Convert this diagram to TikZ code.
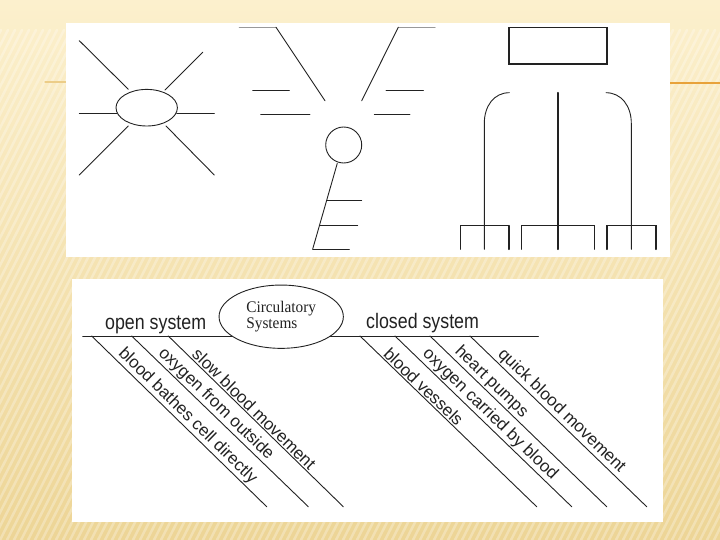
\documentclass[tikz,border=0pt]{standalone}
\usepackage{graphicx}
\usepackage{fontspec}
\setmainfont{Liberation Sans}
\newfontfamily\csserif{Liberation Serif}
\usetikzlibrary{shapes.geometric}
\definecolor{bgtop}{HTML}{FCF0CD}
\definecolor{bgbot}{HTML}{EDD596}
\definecolor{orangeline}{HTML}{E8A23A}
\definecolor{ink}{HTML}{222222}
\begin{document}
\begin{tikzpicture}[x=1pt,y=-1pt,line cap=round,
  ln/.style={line width=0.9pt,draw=ink},
  thk/.style={line width=1.6pt,draw=ink},
  gr/.style={line width=1.2pt,draw=black!40},
  dlab/.style={sloped,above,inner sep=1.2pt,font=\fontsize{17}{19}\selectfont,text=ink},
  hlab/.style={anchor=base west,inner sep=0pt,font=\fontsize{17.8}{20}\selectfont,text=ink}]
\useasboundingbox (0,0) rectangle (720,540);
% background
\shade[top color=bgtop,bottom color=bgbot] (0,0) rectangle (720,540);
\begin{scope}
\clip (0,30) rectangle (720,540);
\foreach \x in {-280,-273,...,720}
  \draw[white,opacity=0.28,line width=2.5pt] (\x,540) -- (\x+260,30);
\end{scope}
\draw[orangeline,line width=2pt] (670,83) -- (720,83);
\draw[bgbot!85!orangeline,line width=1.2pt] (45,82) -- (66,82);
% panels
\fill[white] (66,23) rectangle (670,257);
\fill[white] (72,279) rectangle (663,522);
% ---------- sun diagram
\node[ln,draw,ellipse,minimum width=61.4pt,minimum height=36.6pt,inner sep=0pt] (sun) at (146.7,107.7) {};
\draw[ln] (79.3,113.3) -- (116.7,113.3);
\draw[ln] (176.7,113.3) -- (214.3,113.3);
\draw[ln] (79.3,40.7) -- (128.3,89.3);
\draw[ln] (202.7,52.3) -- (165,90);
\draw[ln] (128.3,126) -- (79.3,175);
\draw[ln] (166,126) -- (214.3,175);
% ---------- fishbone-like diagram
\draw[gr] (239.3,27.3) -- (276,27.3);
\draw[ln] (276,27.3) -- (325,100.7);
\draw[gr] (398.3,27.3) -- (435,27.3);
\draw[ln] (398.3,27.3) -- (361.7,100.7);
\draw[ln] (252.7,90) -- (289.3,90);
\draw[ln] (260.7,114.3) -- (310,114.3);
\draw[ln] (386,90) -- (423.3,90);
\draw[ln] (374.3,114.3) -- (410,114.3);
\node[ln,draw,circle,minimum size=36pt,inner sep=0pt] (head) at (343.7,145) {};
\coordinate (stemtop) at (337.3,163.3);
\coordinate (stembot) at (312.7,249);
\draw[ln] (stemtop) -- (stembot);
\draw[ln] (326.7,200.3) -- (361.7,200.3);
\draw[ln] (320,225) -- (357.7,225);
\draw[ln] (stembot) -- (349.3,249);
% ---------- tree diagram
\node[thk,draw,rectangle,minimum width=98pt,minimum height=36.7pt,inner sep=0pt] (box) at (557.7,45.7) {};
\draw[thk] (557.7,92.7) -- (557.7,249.3);
\draw[ln] (509.3,92.7) .. controls (494,92.7) and (484.3,106) .. (484.3,123.3) -- (484.3,249.3);
\draw[ln] (606,92.7) .. controls (621.3,92.7) and (631.3,106) .. (631.3,123.3) -- (631.3,249.3);
\draw[ln] (460,249.3) -- (460,225.7) -- (509,225.7);
\draw[thk] (509,225.7) -- (509,249.3);
\draw[ln] (521.7,249.3) -- (521.7,225.7) -- (594,225.7) -- (594,249.3);
\draw[thk] (606.7,249.3) -- (606.7,225.7) -- (656,225.7) -- (656,249.3);
% ---------- circulatory systems diagram
\draw[ln] (82.7,336) -- (538.3,336);
\node[ln,draw,fill=white,ellipse,minimum width=124.3pt,minimum height=63.3pt,inner sep=0pt,
      align=left,font=\csserif\fontsize{15.3}{16}\selectfont,text=ink] (cs) at (281.2,316.7)
      {\scalebox{1}[1.06]{Circulatory}\\\scalebox{1}[1.06]{Systems}};
\node[hlab] (open) at (105,329) {\scalebox{1}[1.18]{open system}};
\node[hlab] (closed) at (366,328.5) {\scalebox{1}[1.18]{closed system}};
% open system branches
\draw[ln] (91.7,336) -- node[dlab,pos=0.51] {blood bathes cell directly} (266.7,506.7);
\draw[ln] (131.7,336) -- node[dlab,pos=0.44] {oxygen from outside} (308.3,506.7);
\draw[ln] (168.3,336) -- node[dlab,pos=0.46] {slow blood movement} (343.3,506.7);
% closed system branches
\draw[ln] (360,336) -- node[dlab,pos=0.33] {blood vessels} (536.7,506.7);
\draw[ln] (395,336) -- node[dlab,pos=0.50] {oxygen carried by blood} (571.7,506.7);
\draw[ln] (430,336) -- node[dlab,pos=0.31] {heart pumps} (606.7,506.7);
\draw[ln] (470,336) -- node[dlab,pos=0.48] {quick blood movement} (646.7,506.7);
\end{tikzpicture}
\end{document}
